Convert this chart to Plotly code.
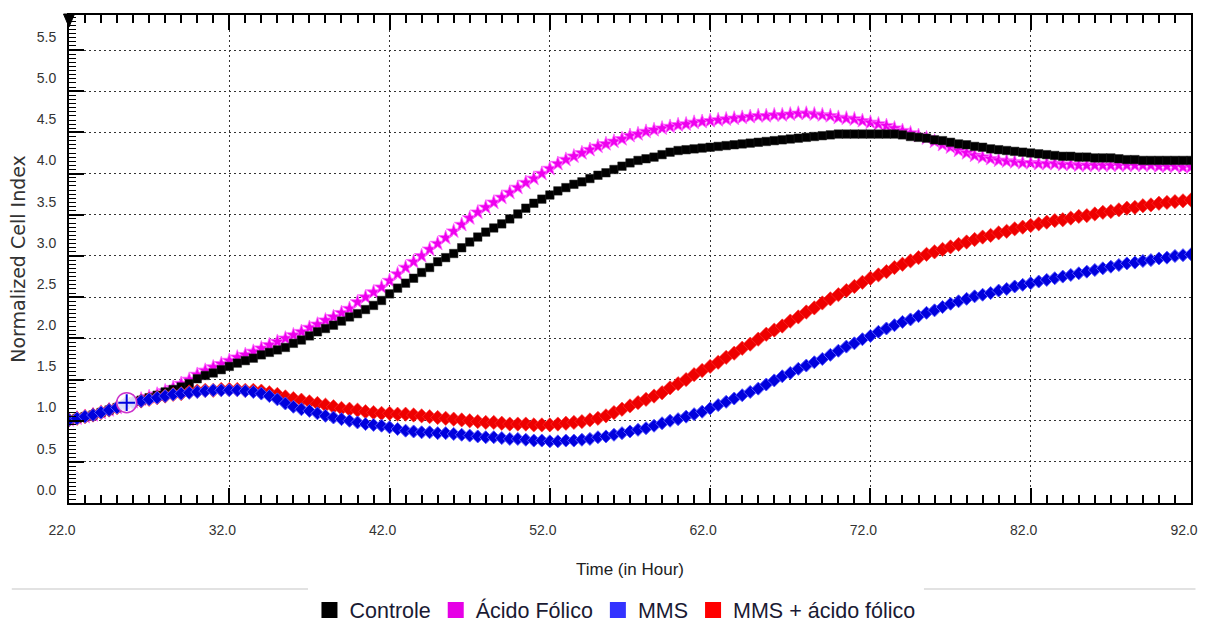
import plotly.graph_objects as go

# ---------------- data ----------------
time_h = [22.0 + 0.5 * i for i in range(141)]

controle = [
    0.85, 0.87, 0.89, 0.91, 0.94, 0.97, 1.00, 1.04, 1.07, 1.09,
    1.12, 1.15, 1.19, 1.22, 1.25, 1.29, 1.35, 1.39, 1.42, 1.46,
    1.50, 1.54, 1.57, 1.60, 1.64, 1.67, 1.70, 1.73, 1.78, 1.82,
    1.87, 1.92, 1.96, 2.00, 2.05, 2.10, 2.14, 2.19, 2.24, 2.30,
    2.38, 2.45, 2.51, 2.57, 2.64, 2.70, 2.77, 2.82, 2.87, 2.94,
    3.01, 3.07, 3.13, 3.18, 3.23, 3.29, 3.35, 3.42, 3.48, 3.53,
    3.58, 3.63, 3.67, 3.71, 3.74, 3.78, 3.82, 3.85, 3.89, 3.93,
    3.97, 4.00, 4.02, 4.04, 4.07, 4.10, 4.12, 4.13, 4.14, 4.15,
    4.16, 4.17, 4.18, 4.19, 4.20, 4.21, 4.22, 4.23, 4.24, 4.25,
    4.26, 4.27, 4.28, 4.29, 4.30, 4.31, 4.32, 4.32, 4.32, 4.32,
    4.32, 4.32, 4.32, 4.32, 4.31, 4.29, 4.28, 4.27, 4.25, 4.24,
    4.22, 4.20, 4.19, 4.17, 4.16, 4.14, 4.13, 4.12, 4.11, 4.10,
    4.09, 4.08, 4.07, 4.06, 4.05, 4.05, 4.04, 4.04, 4.03, 4.03,
    4.03, 4.02, 4.01, 4.01, 4.00, 4.00, 4.00, 4.00, 4.00, 4.00,
    4.00,
]

acido_folico = [
    0.85, 0.87, 0.89, 0.91, 0.94, 0.97, 1.00, 1.04, 1.07, 1.10,
    1.13, 1.16, 1.20, 1.24, 1.29, 1.34, 1.40, 1.45, 1.49, 1.53,
    1.57, 1.61, 1.64, 1.68, 1.72, 1.76, 1.80, 1.84, 1.88, 1.92,
    1.97, 2.01, 2.06, 2.10, 2.15, 2.20, 2.28, 2.34, 2.40, 2.46,
    2.54, 2.62, 2.70, 2.77, 2.84, 2.92, 2.99, 3.06, 3.14, 3.22,
    3.30, 3.37, 3.43, 3.49, 3.55, 3.61, 3.67, 3.73, 3.78, 3.84,
    3.90, 3.96, 4.01, 4.05, 4.09, 4.13, 4.17, 4.20, 4.23, 4.26,
    4.30, 4.32, 4.35, 4.37, 4.39, 4.41, 4.43, 4.44, 4.46, 4.47,
    4.48, 4.49, 4.50, 4.51, 4.52, 4.53, 4.54, 4.54, 4.55, 4.55,
    4.56, 4.57, 4.57, 4.56, 4.55, 4.54, 4.52, 4.51, 4.50, 4.48,
    4.46, 4.44, 4.42, 4.39, 4.36, 4.33, 4.30, 4.27, 4.23, 4.19,
    4.16, 4.12, 4.09, 4.06, 4.04, 4.02, 4.00, 3.99, 3.98, 3.97,
    3.97, 3.96, 3.96, 3.96, 3.95, 3.95, 3.94, 3.94, 3.94, 3.94,
    3.94, 3.94, 3.94, 3.94, 3.94, 3.94, 3.93, 3.93, 3.93, 3.92,
    3.92,
]

mms = [
    0.85, 0.87, 0.89, 0.91, 0.94, 0.97, 1.00, 1.04, 1.06, 1.08,
    1.10, 1.12, 1.14, 1.16, 1.17, 1.18, 1.19, 1.20, 1.21, 1.21,
    1.21, 1.21, 1.20, 1.19, 1.17, 1.14, 1.10, 1.05, 1.01, 0.98,
    0.96, 0.93, 0.90, 0.88, 0.86, 0.84, 0.82, 0.80, 0.79, 0.78,
    0.76, 0.74, 0.72, 0.71, 0.70, 0.70, 0.69, 0.69, 0.68, 0.67,
    0.66, 0.65, 0.64, 0.64, 0.63, 0.62, 0.62, 0.61, 0.60, 0.60,
    0.59, 0.59, 0.60, 0.60, 0.61, 0.62, 0.64, 0.65, 0.67, 0.69,
    0.71, 0.73, 0.75, 0.78, 0.81, 0.84, 0.86, 0.89, 0.92, 0.95,
    0.99, 1.03, 1.07, 1.11, 1.15, 1.19, 1.23, 1.28, 1.33, 1.38,
    1.42, 1.47, 1.51, 1.55, 1.59, 1.64, 1.69, 1.74, 1.78, 1.83,
    1.87, 1.92, 1.96, 2.00, 2.04, 2.07, 2.11, 2.15, 2.18, 2.22,
    2.26, 2.29, 2.32, 2.35, 2.37, 2.39, 2.42, 2.44, 2.47, 2.49,
    2.51, 2.53, 2.55, 2.57, 2.59, 2.61, 2.63, 2.65, 2.67, 2.69,
    2.71, 2.73, 2.75, 2.76, 2.78, 2.79, 2.81, 2.82, 2.84, 2.85,
    2.86,
]

mms_acido = [
    0.85, 0.87, 0.89, 0.91, 0.94, 0.97, 1.00, 1.04, 1.06, 1.08,
    1.10, 1.12, 1.14, 1.16, 1.17, 1.19, 1.20, 1.21, 1.21, 1.22,
    1.22, 1.22, 1.21, 1.21, 1.20, 1.18, 1.16, 1.13, 1.11, 1.09,
    1.07, 1.05, 1.03, 1.01, 0.99, 0.98, 0.97, 0.95, 0.94, 0.93,
    0.93, 0.92, 0.92, 0.91, 0.90, 0.89, 0.88, 0.87, 0.86, 0.85,
    0.84, 0.83, 0.82, 0.82, 0.81, 0.80, 0.80, 0.80, 0.79, 0.79,
    0.79, 0.80, 0.81, 0.82, 0.83, 0.85, 0.87, 0.90, 0.94, 0.98,
    1.02, 1.06, 1.10, 1.14, 1.18, 1.24, 1.29, 1.34, 1.40, 1.45,
    1.50, 1.55, 1.61, 1.66, 1.72, 1.77, 1.83, 1.89, 1.94, 1.99,
    2.05, 2.10, 2.16, 2.21, 2.27, 2.32, 2.37, 2.42, 2.47, 2.52,
    2.57, 2.61, 2.65, 2.70, 2.74, 2.78, 2.82, 2.86, 2.89, 2.92,
    2.95, 2.98, 3.01, 3.04, 3.07, 3.09, 3.12, 3.14, 3.17, 3.19,
    3.21, 3.23, 3.25, 3.27, 3.28, 3.30, 3.32, 3.33, 3.35, 3.37,
    3.38, 3.40, 3.42, 3.43, 3.45, 3.46, 3.48, 3.49, 3.50, 3.51,
    3.52,
]

norm_time = [25.6]
norm_value = [1.06]

x_ticks = [22, 32, 42, 52, 62, 72, 82, 92]
x_ticktext = ["22.0", "32.0", "42.0", "52.0", "62.0", "72.0", "82.0", "92.0"]
y_ticks = [0.0, 0.5, 1.0, 1.5, 2.0, 2.5, 3.0, 3.5, 4.0, 4.5, 5.0, 5.5]
y_ticktext = ["0.0", "0.5", "1.0", "1.5", "2.0", "2.5", "3.0", "3.5", "4.0", "4.5", "5.0", "5.5"]
y_grid = [0.34, 0.84, 1.34, 1.84, 2.34, 2.84, 3.34, 3.84, 4.34, 4.84, 5.34]

series_names = ["Controle", "Ácido Fólico", "MMS", "MMS + ácido fólico"]
legend_colors = ["#000000", "#e600e6", "#3333ff", "#ff0000"]

# ---------------- figure ----------------
SANS = "Liberation Sans, Arial, sans-serif"
Y_RANGE = [-0.158, 5.765]

fig = go.Figure()

fig.add_trace(go.Scatter(
    x=time_h, y=acido_folico, mode="markers", showlegend=False,
    marker=dict(symbol="star", size=11, color="#ee00ee",
                line=dict(color="#ff66ff", width=0.8)),
))
fig.add_trace(go.Scatter(
    x=time_h, y=controle, mode="markers", showlegend=False,
    marker=dict(symbol="square", size=8.5, color="#000000",
                line=dict(color="#222222", width=0.5)),
))
fig.add_trace(go.Scatter(
    x=time_h, y=mms_acido, mode="markers", showlegend=False,
    marker=dict(symbol="diamond", size=11, color="#ee0000",
                line=dict(color="#ff3333", width=0.6)),
))
fig.add_trace(go.Scatter(
    x=time_h, y=mms, mode="markers", showlegend=False,
    marker=dict(symbol="diamond", size=10, color="#0000dd",
                line=dict(color="#5555ff", width=1)),
))
fig.add_trace(go.Scatter(
    x=norm_time, y=norm_value, mode="markers", showlegend=False,
    yaxis="y2",
    marker=dict(symbol="circle", size=20, color="rgba(255,255,255,0.85)",
                line=dict(color="#cc33cc", width=1.5)),
))
fig.add_trace(go.Scatter(
    x=norm_time, y=norm_value, mode="markers", showlegend=False,
    yaxis="y2",
    marker=dict(symbol="cross-thin", size=12, color="#0000dd",
                line=dict(color="#0000dd", width=2)),
))

for name, col in zip(series_names, legend_colors):
    fig.add_trace(go.Scatter(
        x=[None], y=[None], mode="markers", name=name,
        marker=dict(symbol="square", size=16, color=col),
    ))

GRIDDASH = "2px,3px"

fig.update_layout(
    width=1206, height=623,
    margin=dict(l=69, r=15, t=15, b=120),
    paper_bgcolor="white", plot_bgcolor="white",
    font=dict(family=SANS, color="#333333", size=14),
    showlegend=True,
    legend=dict(
        orientation="h", x=0.4866, xanchor="center",
        y=0.021, yanchor="middle", xref="paper", yref="container",
        font=dict(family=SANS, size=21.5, color="#1a1a33"),
        bgcolor="white", itemclick=False, itemdoubleclick=False,
        tracegroupgap=0,
    ),
    xaxis=dict(
        range=[22, 92], tickvals=x_ticks, ticktext=x_ticktext,
        automargin=False,
        ticks="inside", ticklen=15, tickwidth=1.5, tickcolor="black",
        showline=True, linewidth=2, linecolor="black", mirror="ticks",
        showgrid=True, gridcolor="#333333", gridwidth=1.2, griddash=GRIDDASH,
        zeroline=False,
        minor=dict(dtick=1, tick0=22, ticks="inside", ticklen=8,
                   tickwidth=1.5, tickcolor="black", showgrid=False),
        tickfont=dict(family=SANS, size=14, color="#333333"),
        ticklabelshift=-7, ticklabelstandoff=13,
        title=dict(text="Time (in Hour)", standoff=26,
                   font=dict(family=SANS, size=17, color="#222222")),
    ),
    yaxis=dict(
        range=Y_RANGE, tickvals=y_ticks, ticktext=y_ticktext,
        automargin=False,
        ticks="", showgrid=False, zeroline=False,
        showline=True, linewidth=2, linecolor="black", mirror=True,
        tickfont=dict(family=SANS, size=14, color="#333333"),
        ticklabelstandoff=8,
        title=dict(text="Normalized Cell Index", standoff=6,
                   font=dict(family="DejaVu Sans, Verdana, sans-serif", size=19,
                             color="#333333")),
    ),
    yaxis2=dict(
        range=Y_RANGE, overlaying="y", side="left", anchor="x",
        automargin=False,
        tickvals=y_grid, showticklabels=False,
        ticks="inside", ticklen=15, tickwidth=2, tickcolor="black",
        showgrid=True, gridcolor="#333333", gridwidth=1.2, griddash=GRIDDASH,
        zeroline=False, showline=False,
        minor=dict(dtick=0.05, tick0=0.34, ticks="inside", ticklen=7,
                   tickwidth=1.2, tickcolor="black", showgrid=False),
    ),
    shapes=[
        # time-cursor triangle at top-left corner
        dict(type="path", xref="paper", yref="paper",
             path="M -0.0049,1.002 L 0.0049,1.002 L 0,0.9754 Z",
             fillcolor="black", line=dict(color="black", width=1)),
        # light separator above the legend
        dict(type="line", xref="paper", yref="paper",
             x0=-0.051, x1=0.213, y0=-0.176, y1=-0.176,
             line=dict(color="#e2e2e2", width=2)),
        dict(type="line", xref="paper", yref="paper",
             x0=0.762, x1=1.004, y0=-0.176, y1=-0.176,
             line=dict(color="#e2e2e2", width=2)),
    ],
)

fig.write_html("out.html", config={"displayModeBar": False},
               post_script="document.body.style.margin='0px';")
